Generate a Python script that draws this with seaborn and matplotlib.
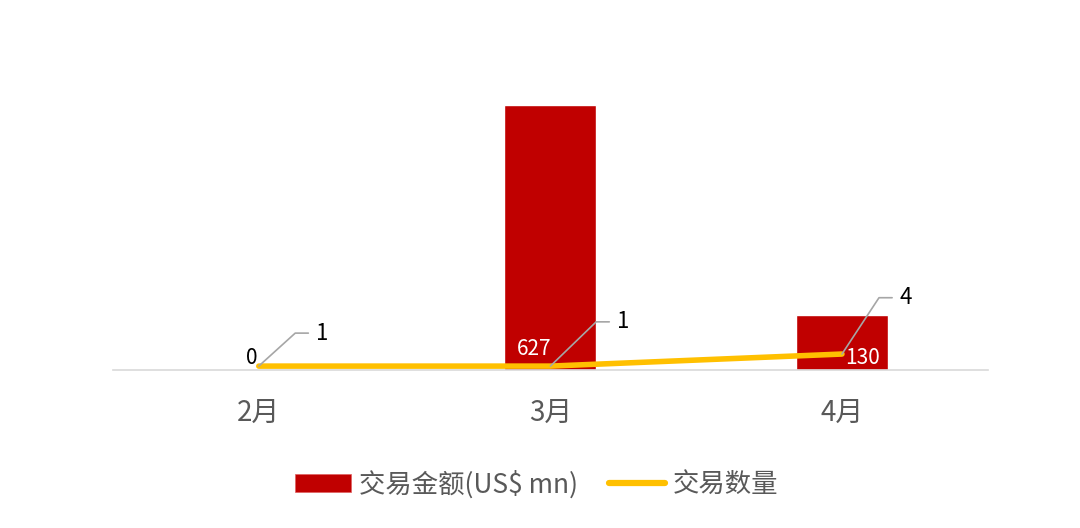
import numpy as np
import pandas as pd
import matplotlib.pyplot as plt
import seaborn as sns
from matplotlib.patches import Patch
from matplotlib.lines import Line2D

# data
months = ['2月', '3月', '4月']
amount = [0, 627, 130]      # 交易金额(US$ mn)
count = [1, 1, 4]           # 交易数量

sns.set_style('white')
plt.rcParams['font.family'] = ['Noto Sans CJK SC', 'DejaVu Sans']

df = pd.DataFrame({'month': months, 'amount': amount, 'count': count})

fig = plt.figure(figsize=(10.8, 5.28), dpi=100)
ax = fig.add_axes([0.1046, 0.299, 0.81, 0.640])
sns.barplot(data=df, x='month', y='amount', color='#C00000', width=0.315,
            saturation=1, ax=ax)
ax.set_xlim(-0.5, 2.5)
ax.set_ylim(0, 800)
ax.set_xlabel('')
ax.set_ylabel('')
ax.set_yticks([])
for s in ['top', 'right', 'left']:
    ax.spines[s].set_visible(False)
ax.spines['bottom'].set_color('#D9D9D9')
ax.spines['bottom'].set_linewidth(1.2)
ax.tick_params(axis='x', length=0, labelsize=20, labelcolor='#595959', pad=20)

# bar labels
label_dx = [-0.005, -0.055, 0.07]
for i, v in enumerate(amount):
    if v == 0:
        ax.text(i + label_dx[i], 2, str(v), ha='right', va='bottom', fontsize=15, color='black')
    else:
        ax.text(i + label_dx[i], 2 if i == 2 else 24, str(v),
                ha='center', va='bottom', fontsize=15, color='white')

ax2 = ax.twinx()
x_pos = np.arange(len(months))
sns.lineplot(x=x_pos, y=count, color='#FFC000', linewidth=4, ax=ax2,
             solid_capstyle='round')
ax2.set_ylim(0, 84)
ax2.set_xlim(-0.5, 2.5)
ax2.set_yticks([])
ax2.set_ylabel('')
for s in ax2.spines.values():
    s.set_visible(False)

# line labels with leader lines
offsets = [(0.125, 8.2), (0.157, 11), (0.127, 14)]
for i, (c, (dx, dy)) in enumerate(zip(count, offsets)):
    x0, y0 = i, c
    x1, y1 = i + dx, c + dy
    ax2.plot([x0, x1, x1 + 0.045], [y0, y1, y1], color='#A6A6A6', linewidth=1.2)
    ax2.text(x1 + 0.07, y1, str(c), ha='left', va='center', fontsize=16, color='black')

handles = [Patch(facecolor='#C00000', edgecolor='#E06060', linewidth=0.5),
           Line2D([0], [0], color='#FFC000', linewidth=4.5, solid_capstyle='round')]
fig.legend(handles, ['交易金额(US$ mn)', '交易数量'], loc='center',
           bbox_to_anchor=(0.497, 0.083), ncol=2, frameon=False, fontsize=19,
           labelcolor='#595959', handlelength=2.1, handleheight=0.65,
           handletextpad=0.3, columnspacing=1.2)

fig.savefig('out.png', dpi=100)
